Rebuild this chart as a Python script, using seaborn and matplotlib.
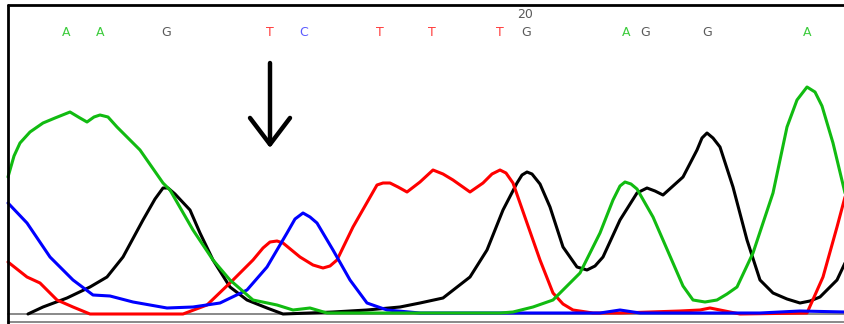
import matplotlib
matplotlib.use("Agg")
import matplotlib.pyplot as plt
import seaborn as sns
import pandas as pd

# --- trace data (x position, signal intensity above baseline) ---
green_x = [8, 14, 20, 30, 43, 55, 70, 80, 87, 94, 100, 108, 117, 140, 163, 170, 193, 213, 230, 253, 277, 293,
           310, 327, 400, 500, 513, 533, 553, 580, 600, 613, 620, 625, 631, 637, 653, 673, 683, 693, 705, 717,
           727, 737, 753, 773, 787, 797, 807, 815, 822, 833, 845]
green_y = [137, 158, 171, 182, 191, 196, 202, 196, 192, 197, 199, 197, 187, 164, 131, 124, 84, 54, 34, 14, 9, 4,
           6, 1, 1, 1, 2, 7, 14, 41, 81, 114, 128, 132, 130, 125, 97, 51, 28, 14, 12, 14,
           20, 27, 61, 121, 187, 214, 227, 222, 208, 171, 121]

black_x = [28, 43, 67, 90, 107, 123, 143, 155, 163, 168, 175, 190, 200, 213, 230, 247, 267, 283, 310, 333, 367,
           400, 420, 443, 470, 487, 503, 517, 522, 527, 532, 540, 550, 563, 577, 587, 595, 603, 620, 637, 647,
           655, 663, 683, 697, 702, 707, 713, 720, 733, 747, 760, 773, 787, 800, 810, 820, 837, 845]
black_y = [0, 7, 16, 27, 37, 57, 94, 115, 126, 126, 120, 104, 81, 54, 27, 14, 6, 0, 1, 2, 4,
           7, 11, 16, 37, 64, 104, 131, 139, 142, 140, 130, 107, 67, 47, 44, 48, 57, 94, 121, 126,
           123, 119, 137, 164, 176, 181, 176, 167, 127, 74, 34, 21, 15, 11, 13, 17, 34, 51]

red_x = [8, 27, 40, 57, 73, 90, 183, 207, 233, 253, 263, 270, 277, 283, 300, 313, 323, 330, 337, 353, 377, 383,
         390, 398, 407, 420, 433, 443, 453, 470, 483, 492, 500, 506, 513, 527, 540, 553, 563, 573, 593, 620, 680,
         700, 710, 740, 807, 823, 837, 845]
red_y = [52, 37, 31, 14, 7, 0, 0, 9, 34, 54, 66, 72, 73, 71, 57, 49, 46, 48, 54, 87, 129, 131,
         131, 127, 122, 132, 144, 140, 134, 122, 131, 140, 144, 141, 131, 91, 54, 21, 10, 4, 1, 1, 3,
         4, 6, 0, 1, 37, 87, 117]

blue_x = [8, 27, 50, 73, 93, 110, 133, 167, 193, 220, 247, 267, 287, 295, 303, 310, 317, 333, 350, 367, 387,
          420, 500, 600, 620, 640, 700, 760, 800, 845]
blue_y = [111, 91, 57, 34, 19, 18, 12, 6, 7, 11, 24, 47, 81, 95, 101, 97, 91, 64, 34, 11, 4,
          1, 1, 1, 4, 1, 1, 1, 3, 2]

# --- base calls ---
bases = ["A", "A", "G", "T", "C", "T", "T", "T", "G", "A", "G", "G", "A"]
base_x = [66, 100, 166, 270, 304, 380, 432, 500, 526, 626, 645, 707, 807]
base_colors = {"A": "#3ccc3c", "G": "#5a5a5a", "T": "#ff3c3c", "C": "#5a5aff"}
pos_label = "20"
pos_label_x = 525

trace_colors = {"black": "#000000", "red": "#ff0000", "blue": "#0000ff", "green": "#11bb11"}

sns.set_style("white")
fig = plt.figure(figsize=(8.45, 3.24), dpi=100)
ax = fig.add_axes([0, 0, 1, 1])
ax.set_xlim(0, 845)
ax.set_ylim(-10, 314)
ax.axis("off")

# baselines
ax.axhline(0, xmin=8 / 845, xmax=1, color="#808080", lw=1.3, zorder=1)
ax.axhline(-8, xmin=8 / 845, xmax=1, color="#808080", lw=1.3, zorder=1)
# frame
ax.axhline(309, xmin=8 / 845, xmax=1, color="black", lw=2, zorder=5)
ax.axvline(8, ymin=0, ymax=(309 + 10) / 324, color="black", lw=2, zorder=5)

traces = [("black", black_x, black_y), ("red", red_x, red_y),
          ("blue", blue_x, blue_y), ("green", green_x, green_y)]
for name, xs, ys in traces:
    df = pd.DataFrame({"x": xs, "y": ys})
    sns.lineplot(data=df, x="x", y="y", color=trace_colors[name], lw=2.2, ax=ax,
                 estimator=None, sort=False, zorder=3)

for b, bx in zip(bases, base_x):
    ax.text(bx, 281, b, color=base_colors[b], fontsize=9, ha="center", va="center",
            family="DejaVu Sans")
ax.text(pos_label_x, 299, pos_label, color="#5a5a5a", fontsize=9, ha="center", va="center",
        family="DejaVu Sans")

# arrow marking the position
ax.annotate("", xy=(270, 166), xytext=(270, 251),
            arrowprops=dict(arrowstyle="->,head_length=0.95,head_width=0.72",
                            lw=3.2, color="black", mutation_scale=20, shrinkA=0, shrinkB=0))

ax.set_xlabel("")
ax.set_ylabel("")
fig.savefig("out.png", dpi=100)
